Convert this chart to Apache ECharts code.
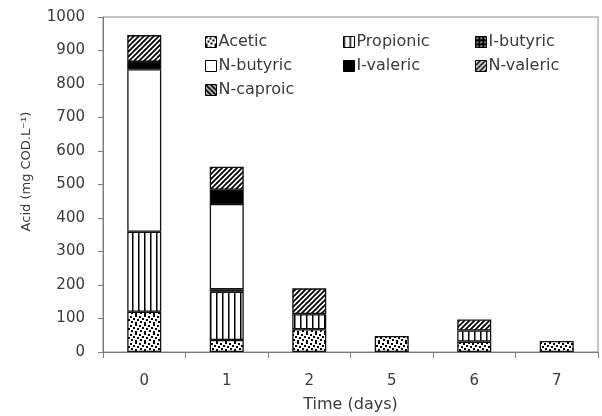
<!DOCTYPE html>
<html>
<head>
<meta charset="utf-8">
<script src="https://cdn.jsdelivr.net/npm/echarts@6/dist/echarts.min.js"></script>
<style>
  html, body { margin: 0; padding: 0; background: #fff; }
  #chart { width: 602px; height: 416px; }
</style>
</head>
<body>
<div id="chart"></div>
<script>
// data (mg COD/L per acid, stacked)
const days = ['0', '1', '2', '5', '6', '7']
const acetic = [120, 36, 68, 48, 31, 33]
const propionic = [239, 144, 45, 0, 33, 0]
const iButyric = [0, 7, 0, 0, 0, 0]
const nButyric = [485, 255, 0, 0, 0, 0]
const iValeric = [22, 42, 0, 0, 0, 0]
const nValeric = [80, 69, 77, 0, 33, 0]
const nCaproic = [0, 0, 0, 0, 0, 0]
const yTicks = { min: 0, max: 1000, interval: 100 }

// fill patterns, drawn on little canvases
function pattern(w, h, bg, draw) {
  const c = document.createElement('canvas')
  c.width = w
  c.height = h
  const ctx = c.getContext('2d')
  ctx.fillStyle = bg
  ctx.fillRect(0, 0, w, h)
  draw(ctx)
  return { image: c, repeat: 'repeat' }
}

const dots = pattern(9, 9, '#fff', ctx => {
  ctx.fillStyle = '#000'
  ;[[0, 0], [4, 1], [7, 3], [2, 4], [5, 6], [0, 7]].forEach(p => ctx.fillRect(p[0], p[1], 2, 2))
})
const vlines = pattern(6, 6, '#fff', ctx => {
  ctx.fillStyle = '#000'
  ctx.fillRect(0, 0, 1.5, 6)
})
const whiteDots = pattern(4, 4, '#000', ctx => {
  ctx.fillStyle = '#fff'
  ctx.fillRect(1, 1, 1.5, 1.5)
})
function hatch(dir, lw) {
  return pattern(5, 5, '#fff', ctx => {
    ctx.strokeStyle = '#000'
    ctx.lineWidth = lw
    ctx.beginPath()
    if (dir > 0) {
      ctx.moveTo(-1, 6); ctx.lineTo(6, -1)
      ctx.moveTo(-1, 1); ctx.lineTo(1, -1)
      ctx.moveTo(4, 6); ctx.lineTo(6, 4)
    } else {
      ctx.moveTo(-1, -1); ctx.lineTo(6, 6)
      ctx.moveTo(4, -1); ctx.lineTo(6, 1)
      ctx.moveTo(-1, 4); ctx.lineTo(1, 6)
    }
    ctx.stroke()
  })
}

const seriesDefs = [
  ['Acetic', acetic, dots],
  ['Propionic', propionic, vlines],
  ['I-butyric', iButyric, whiteDots],
  ['N-butyric', nButyric, '#fff'],
  ['I-valeric', iValeric, '#000'],
  ['N-valeric', nValeric, hatch(1, 1.8)],
  ['N-caproic', nCaproic, hatch(-1, 2.2)]
]

const textColor = '#3a3a3a'
const font = '"DejaVu Sans", Verdana, sans-serif'

function legendCol(left, names) {
  return {
    left: left,
    top: 34,
    orient: 'vertical',
    data: names,
    icon: 'rect',
    itemWidth: 11,
    itemHeight: 11,
    itemGap: 8,
    padding: 0,
    selectedMode: false,
    itemStyle: { borderColor: '#000', borderWidth: 1 },
    textStyle: { fontFamily: font, fontSize: 16, color: textColor, lineHeight: 16, padding: [0, 0, 0, -3] }
  }
}

const myChart = echarts.init(document.getElementById('chart'))

myChart.setOption({
  animation: false,
  backgroundColor: '#fff',
  grid: {
    left: 103, right: 4, top: 17, bottom: 64,
    show: true, borderColor: '#8a8a8a', borderWidth: 1,
    outerBoundsMode: 'none'
  },
  legend: [
    legendCol(205, ['Acetic', 'N-butyric', 'N-caproic']),
    legendCol(343, ['Propionic', 'I-valeric']),
    legendCol(475, ['I-butyric', 'N-valeric'])
  ],
  xAxis: {
    type: 'category',
    data: days,
    name: 'Time (days)',
    nameLocation: 'middle',
    nameGap: 45,
    nameTextStyle: { fontFamily: font, fontSize: 16, color: textColor },
    axisLine: { lineStyle: { color: '#7a7a7a', width: 1 } },
    axisTick: { show: true, length: 6, lineStyle: { color: '#7a7a7a' } },
    axisLabel: { margin: 22, fontFamily: font, fontSize: 15, color: textColor }
  },
  yAxis: {
    type: 'value',
    min: yTicks.min,
    max: yTicks.max,
    interval: yTicks.interval,
    name: 'Acid (mg COD.L\u207B\u00B9)',
    nameLocation: 'middle',
    nameGap: 70,
    nameTextStyle: { fontFamily: font, fontSize: 13, color: textColor, padding: [0, 0, 0, 26] },
    axisLine: { show: true, lineStyle: { color: '#7a7a7a', width: 1 } },
    axisTick: { show: true, length: 5, lineStyle: { color: '#7a7a7a' } },
    splitLine: { show: false },
    axisLabel: { margin: 18, fontFamily: font, fontSize: 15, color: textColor, formatter: v => String(v) }
  },
  series: seriesDefs.map(d => ({
    name: d[0],
    type: 'bar',
    stack: 'acid',
    barWidth: 34,
    data: d[1].map(v => (v ? v : '-')),
    itemStyle: { color: d[2], borderColor: '#111', borderWidth: 1.3 }
  }))
})

window.onresize = function () {
  myChart.resize()
}
</script>
</body>
</html>
